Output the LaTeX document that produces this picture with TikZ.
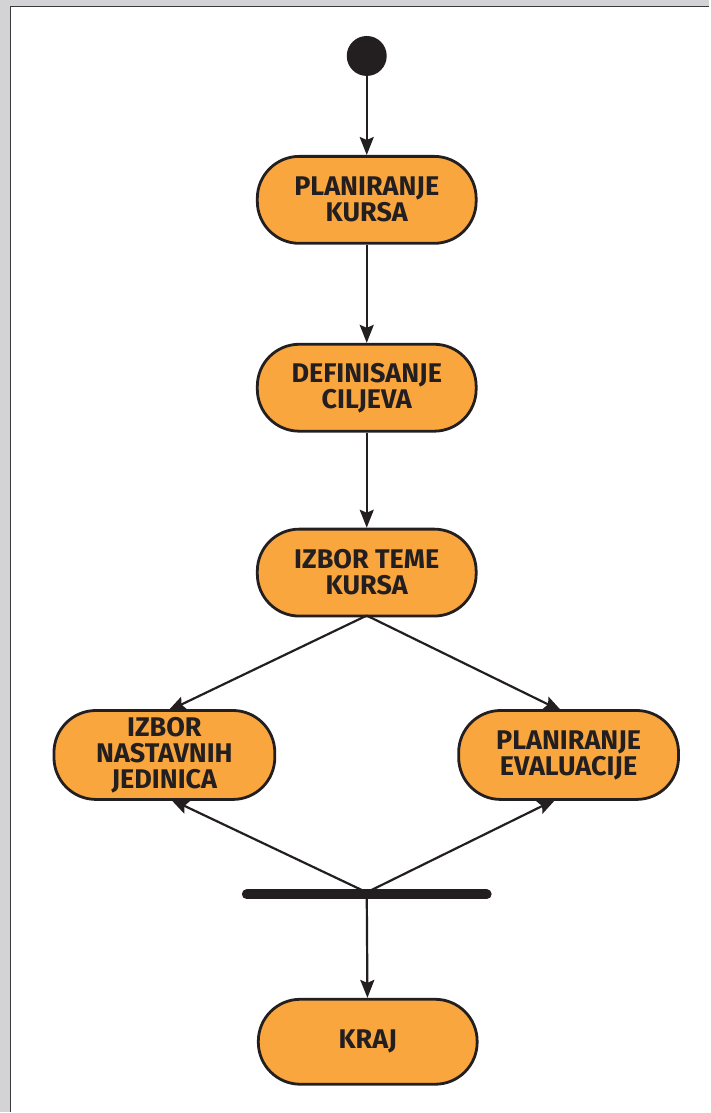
\documentclass[tikz,border=0pt]{standalone}
\usepackage{fontspec}
\setmainfont{Fira Sans}
\usetikzlibrary{arrows.meta}
\definecolor{boxfill}{HTML}{F9A63E}
\definecolor{ink}{HTML}{231F20}
\definecolor{pagegray}{HTML}{D3D3D5}
\definecolor{frameline}{HTML}{3A3A3C}
\tikzset{
  stepbox/.style={draw=ink, line width=2.8pt, fill=boxfill, rounded corners=42pt,
    minimum width=219pt, minimum height=87pt, align=center, text=ink,
    font=\fontsize{27}{26}\selectfont\bfseries, inner sep=0pt},
  flow/.style={draw=ink, line width=2.2pt,
    -{Stealth[length=18pt, width=14pt, inset=3pt]}},
  plain/.style={draw=ink, line width=2.2pt}
}
\begin{document}
\begin{tikzpicture}[x=1pt, y=-1pt]
  % page background and frame
  \fill[pagegray] (0,0) rectangle (710,1113);
  \fill[white] (10.5,6.5) rectangle (710,1113);
  \draw[frameline, line width=1.6pt] (10.5,1113) -- (10.5,6.5) -- (710,6.5);
  \useasboundingbox (0,0) rectangle (710,1113);

  % start point
  \node[circle, fill=ink, minimum size=40pt, inner sep=0pt] (start) at (367,56) {};

  % activities
  \node[stepbox] (plan) at (367,200) {PLANIRANJE\\KURSA};
  \node[stepbox] (cilj) at (367,388) {DEFINISANJE\\CILJEVA};
  \node[stepbox] (tema) at (367,573) {IZBOR TEME\\KURSA};
  \node[stepbox, minimum width=221pt, minimum height=89pt] (jed) at (164.5,755.5) {IZBOR\\NASTAVNIH\\JEDINICA};
  \node[stepbox, minimum width=220pt, minimum height=89pt] (eval) at (569,755.5) {PLANIRANJE\\EVALUACIJE};
  \node[stepbox, minimum height=85pt] (kraj) at (368,1042.5) {KRAJ};

  % synchronisation bar
  \draw[ink, line width=10pt, line cap=round] (247,895) -- (487,895);
  \coordinate (barc) at (367,893);
  \coordinate (temab) at (367,616);

  % connectors
  \draw[flow] (start) -- (plan);
  \draw[flow] (plan) -- (cilj);
  \draw[flow] (cilj) -- (tema);
  \draw[flow] (temab) -- (168,711.5);
  \draw[flow] (temab) -- (562,711.5);
  \draw[flow] (barc) -- (171,800);
  \draw[flow] (barc) -- (556,800);
  \draw[flow] (barc) -- (kraj);
\end{tikzpicture}
\end{document}
